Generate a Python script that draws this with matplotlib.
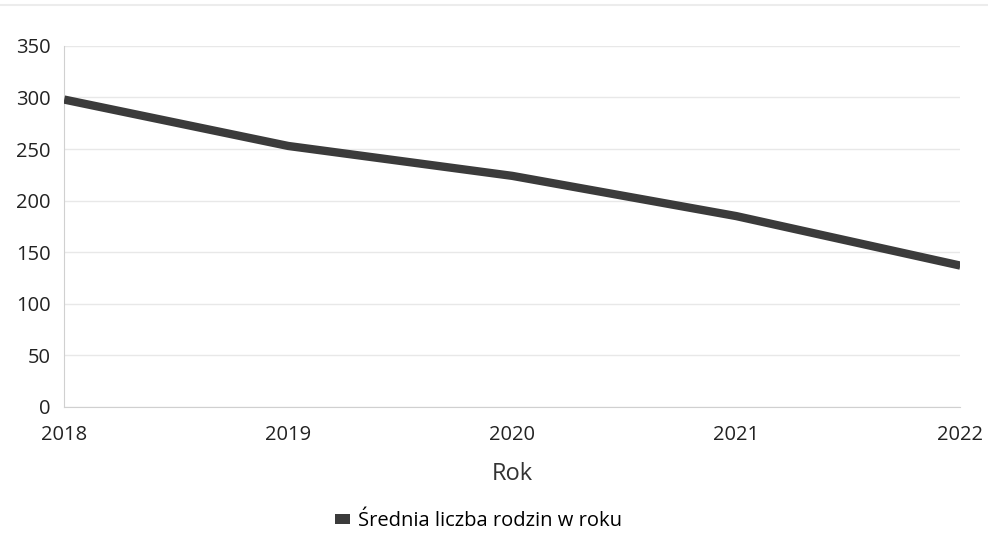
import matplotlib
matplotlib.use("Agg")
import matplotlib.pyplot as plt
from matplotlib.lines import Line2D
from matplotlib.patches import Patch

years = [2018, 2019, 2020, 2021, 2022]
values = [298, 253, 224, 185, 137]
yticks = [0, 50, 100, 150, 200, 250, 300, 350]
series_name = "Średnia liczba rodzin w roku"
x_label = "Rok"

plt.rcParams['font.family'] = ['Open Sans', 'DejaVu Sans']

fig = plt.figure(figsize=(9.88, 5.34), dpi=100)
ax = fig.add_axes([0.065, 0.238, 0.907, 0.676])

ax.plot(years, values, color='#3b3b3b', linewidth=6, solid_capstyle='butt',
        solid_joinstyle='round', zorder=3)

ax.set_xlim(2018, 2022)
ax.set_ylim(0, 350)
ax.set_xticks(years)
ax.set_xticklabels([str(y) for y in years])
ax.set_yticks(yticks)
ax.grid(axis='y', color='#e8e8e8', linewidth=1)
ax.set_axisbelow(True)
for s in ['top', 'right']:
    ax.spines[s].set_visible(False)
ax.spines['left'].set_color('#d0d0d0')
ax.spines['bottom'].set_color('#d0d0d0')
ax.tick_params(axis='both', length=0, labelsize=14.5, colors='#222222')
ax.tick_params(axis='x', pad=13)
ax.tick_params(axis='y', pad=10)
ax.set_xlabel(x_label, fontsize=17, color='#333333', labelpad=12)

handles = [Patch(facecolor='#3b3b3b', edgecolor='none', label=series_name)]
fig.legend(handles=handles, loc='center', bbox_to_anchor=(0.484, 0.024),
           frameon=False, fontsize=14.5, handlelength=0.75, handleheight=0.45,
           handletextpad=0.4)

fig.add_artist(Line2D([0, 1], [0.99, 0.99], transform=fig.transFigure,
                      color='#ececec', linewidth=1.5))

fig.savefig("out.png", dpi=100, facecolor='white')
